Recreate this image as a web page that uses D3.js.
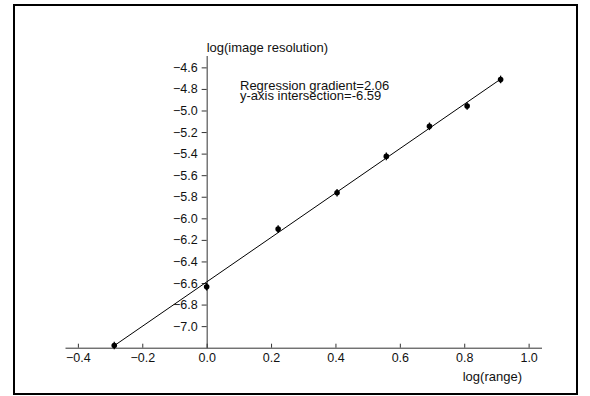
<!DOCTYPE html>
<html>
<head>
<meta charset="utf-8">
<script src="https://cdn.jsdelivr.net/npm/d3@7"></script>
<style>
  body { margin: 0; background: #fff; }
  text { font-family: "Liberation Sans", Arial, sans-serif; font-size: 13px; fill: #111; }
</style>
</head>
<body>
<script>

// measured points, log(range) vs log(image resolution)
const logRange = [-0.287, 0.0, 0.222, 0.405, 0.558, 0.692, 0.809, 0.913];
const logResolution = [-7.18, -6.635, -6.10, -5.763, -5.426, -5.147, -4.959, -4.712];

const xTicks = [-0.4, -0.2, 0.0, 0.2, 0.4, 0.6, 0.8, 1.0];
const yTicks = [-7.0, -6.8, -6.6, -6.4, -6.2, -6.0, -5.8, -5.6, -5.4, -5.2, -5.0, -4.8, -4.6];

const gradient = 2.06;
const intercept = -6.59;

const width = 590;
const height = 396;

const svg = d3.select('body').append('svg')
  .attr('width', width)
  .attr('height', height);

// outer frame
svg.append('rect')
  .attr('x', 14)
  .attr('y', 5)
  .attr('width', 563)
  .attr('height', 389)
  .attr('fill', 'none')
  .attr('stroke', '#000')
  .attr('stroke-width', 2);

const x = d3.scaleLinear()
  .domain([-0.44, 1.04])
  .range([65, 541.5]);

const y = d3.scaleLinear()
  .domain([-7.2, -4.49])
  .range([347.7, 55.5]);

// x axis sits at y=-7.2, y axis at x=0
const xAxis = d3.axisTop(x)
  .tickValues(xTicks)
  .tickSizeOuter(0)
  .tickSizeInner(4)
  .tickFormat(d3.format('.1f'));

const gx = svg.append('g')
  .attr('transform', `translate(0,${y(-7.2)})`)
  .call(xAxis);
gx.selectAll('text')
  .attr('y', 14.5)
  .attr('dy', 0);

const yAxis = d3.axisLeft(y)
  .tickValues(yTicks)
  .tickSizeOuter(0)
  .tickSizeInner(5)
  .tickPadding(4)
  .tickFormat(d3.format('.1f'));

const gy = svg.append('g')
  .attr('transform', `translate(${x(0)},0)`)
  .call(yAxis);

svg.selectAll('.domain, .tick line').attr('stroke', '#333');
svg.selectAll('.tick text')
  .style('font-family', '"Liberation Sans", Arial, sans-serif')
  .style('font-size', '12.5px')
  .attr('fill', '#111');

// axis titles
svg.append('text')
  .attr('x', x(0))
  .attr('y', 52)
  .text('log(image resolution)');

svg.append('text')
  .attr('x', 522)
  .attr('y', 381)
  .attr('text-anchor', 'end')
  .text('log(range)');

// regression annotation (lines sit tight, as in the original)
const note = svg.append('text')
  .attr('x', 240);
note.append('tspan').attr('x', 240).attr('y', 89.5).text(`Regression gradient=${gradient.toFixed(2)}`);
note.append('tspan').attr('x', 240).attr('y', 99.5).text(`y-axis intersection=${intercept.toFixed(2)}`);

// regression line across the data range
const xr = d3.extent(logRange);
svg.append('line')
  .attr('x1', x(xr[0]))
  .attr('y1', y(gradient * xr[0] + intercept))
  .attr('x2', x(xr[1]))
  .attr('y2', y(gradient * xr[1] + intercept))
  .attr('stroke', '#000')
  .attr('stroke-width', 1);

// points
const pts = svg.selectAll('.pt')
  .data(logRange.map((d, i) => ({ x: d, y: logResolution[i] })))
  .enter().append('g')
  .attr('class', 'pt')
  .attr('transform', d => `translate(${x(d.x)},${y(d.y)})`);

pts.append('line')
  .attr('x1', 0).attr('x2', 0)
  .attr('y1', -3.8).attr('y2', 3.8)
  .attr('stroke', '#000')
  .attr('stroke-width', 1.3);

pts.append('circle')
  .attr('r', 2.8)
  .attr('fill', '#000');

</script>
</body>
</html>
